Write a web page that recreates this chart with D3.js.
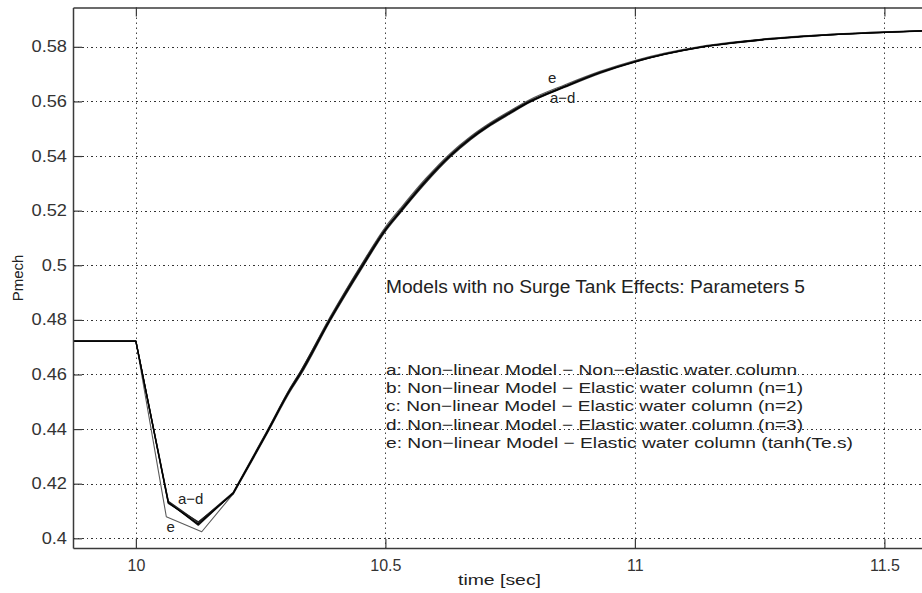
<!DOCTYPE html>
<html lang="en">
<head>
    <meta charset="UTF-8">
    <title>Pmech</title>
    <style>
        body { margin: 0; background: #fff; }
        svg { display: block; font-family: "Liberation Sans", Arial, sans-serif; }
    </style>
</head>
<body>
    <div id="chart"></div>
    <script src="https://d3js.org/d3.v7.min.js"></script>
    <script>
        // time axis for curves a-d and for curve e (its corners sit a bit apart)
        const timeAD = [9.80, 10.00, 10.065, 10.125, 10.195, 10.262, 10.309, 10.33, 10.389, 10.455, 10.50, 10.53, 10.58, 10.63, 10.67, 10.71, 10.75, 10.79, 10.86, 10.93, 11.00, 11.06, 11.13, 11.20, 11.26, 11.33, 11.40, 11.50, 11.60]
        const timeE = [9.80, 10.00, 10.061, 10.132, 10.195, 10.262, 10.309, 10.33, 10.389, 10.455, 10.50, 10.53, 10.58, 10.63, 10.67, 10.71, 10.75, 10.79, 10.86, 10.93, 11.00, 11.06, 11.13, 11.20, 11.26, 11.33, 11.40, 11.50, 11.60]

        const pmechA = [0.4722, 0.4722, 0.4130, 0.4052, 0.4165, 0.4384, 0.4543, 0.4604, 0.4800, 0.5000, 0.5129, 0.5196, 0.5305, 0.5400, 0.5462, 0.5514, 0.5558, 0.5599, 0.5654, 0.5705, 0.5745, 0.5773, 0.5798, 0.5815, 0.5827, 0.5837, 0.5845, 0.5853, 0.5860]
        const pmechB = [0.4722, 0.4722, 0.4136, 0.4058, 0.4168, 0.4390, 0.4548, 0.4611, 0.4806, 0.5008, 0.5134, 0.5202, 0.5311, 0.5405, 0.5467, 0.5518, 0.5562, 0.5603, 0.5657, 0.5707, 0.5747, 0.5774, 0.5799, 0.5816, 0.5828, 0.5838, 0.5846, 0.5854, 0.5860]
        const pmechC = [0.4722, 0.4722, 0.4128, 0.4060, 0.4162, 0.4380, 0.4538, 0.4598, 0.4795, 0.4995, 0.5124, 0.5192, 0.5300, 0.5396, 0.5459, 0.5511, 0.5555, 0.5597, 0.5652, 0.5703, 0.5744, 0.5772, 0.5797, 0.5814, 0.5826, 0.5836, 0.5845, 0.5853, 0.5859]
        const pmechD = [0.4722, 0.4722, 0.4133, 0.4048, 0.4166, 0.4386, 0.4545, 0.4606, 0.4802, 0.5003, 0.5131, 0.5198, 0.5307, 0.5402, 0.5464, 0.5516, 0.5560, 0.5601, 0.5655, 0.5706, 0.5746, 0.5773, 0.5798, 0.5815, 0.5827, 0.5837, 0.5845, 0.5853, 0.5860]
        const pmechE = [0.4722, 0.4722, 0.4079, 0.4024, 0.4163, 0.4388, 0.4550, 0.4612, 0.4810, 0.5012, 0.5140, 0.5208, 0.5316, 0.5410, 0.5471, 0.5522, 0.5566, 0.5607, 0.5661, 0.5710, 0.5750, 0.5777, 0.5801, 0.5818, 0.5829, 0.5839, 0.5847, 0.5855, 0.5861]

        // index of the last sharp corner (t = 10.195); the recovery after it is smooth
        const riseStart = 4

        const xTicks = [10, 10.5, 11, 11.5]
        const xTickLabels = ['10', '10.5', '11', '11.5']
        const yTicks = [0.40, 0.42, 0.44, 0.46, 0.48, 0.50, 0.52, 0.54, 0.56, 0.58]
        const yTickLabels = ['0.4', '0.42', '0.44', '0.46', '0.48', '0.5', '0.52', '0.54', '0.56', '0.58']

        const titleText = 'Models with no Surge Tank Effects: Parameters 5'
        const legendLines = [
            'a: Non\u2212linear Model \u2212 Non\u2212elastic water column',
            'b: Non\u2212linear Model \u2212 Elastic water column (n=1)',
            'c: Non\u2212linear Model \u2212 Elastic water column (n=2)',
            'd: Non\u2212linear Model \u2212 Elastic water column (n=3)',
            'e: Non\u2212linear Model \u2212 Elastic water column (tanh(Te.s)'
        ]

        const width = 922
        const height = 593
        const plotLeft = 73, plotTop = 7.5, plotBottom = 548, plotRight = 934.3
        const axisColor = '#3a3a3a'

        const x = d3.scaleLinear().domain([9.874, 11.6]).range([plotLeft, plotRight])
        const y = d3.scaleLinear().domain([0.39645, 0.5944]).range([plotBottom, plotTop])

        const svg = d3.select('#chart')
            .append('svg')
            .attr('width', width)
            .attr('height', height)

        svg.append('defs').append('clipPath')
            .attr('id', 'plot-clip')
            .append('rect')
            .attr('x', plotLeft).attr('y', plotTop)
            .attr('width', plotRight - plotLeft).attr('height', plotBottom - plotTop)

        // dotted grid (MATLAB ':' style)
        const grid = svg.append('g').attr('class', 'grid').attr('stroke-width', 1)
        grid.selectAll('.hgrid')
            .data(yTicks)
            .join('line')
            .attr('class', 'hgrid')
            .attr('stroke', '#333')
            .attr('x1', plotLeft).attr('x2', plotRight)
            .attr('y1', d => Math.round(y(d)) + 0.5).attr('y2', d => Math.round(y(d)) + 0.5)
            .attr('stroke-dasharray', '2,3,1,3')
        grid.selectAll('.vgrid')
            .data(xTicks)
            .join('line')
            .attr('class', 'vgrid')
            .attr('stroke', '#444')
            .attr('x1', d => Math.round(x(d)) + 0.5).attr('x2', d => Math.round(x(d)) + 0.5)
            .attr('y1', plotTop).attr('y2', plotBottom)
            .attr('stroke-dasharray', '1.5,3.5')

        // curves
        const series = [
            { t: timeE, v: pmechE, color: '#5a5a5a', w: 1.1 },
            { t: timeAD, v: pmechC, color: '#333', w: 1.3 },
            { t: timeAD, v: pmechB, color: '#222', w: 1.3 },
            { t: timeAD, v: pmechD, color: '#1a1a1a', w: 1.3 },
            { t: timeAD, v: pmechA, color: '#000', w: 1.3 }
        ]
        const lineSharp = d3.line()
            .x(d => x(d[0]))
            .y(d => y(d[1]))
        const lineSmooth = d3.line()
            .x(d => x(d[0]))
            .y(d => y(d[1]))
            .curve(d3.curveMonotoneX)

        const curves = svg.append('g').attr('clip-path', 'url(#plot-clip)')
        series.forEach(s => {
            const pts = s.t.map((t, i) => [t, s.v[i]])
            curves.append('path')
                .attr('fill', 'none')
                .attr('stroke', s.color)
                .attr('stroke-width', s.w)
                .attr('stroke-linejoin', 'round')
                .attr('d', lineSharp(pts.slice(0, riseStart + 1)) + lineSmooth(pts.slice(riseStart)).replace(/^M/, 'L'))
        })

        // axes: MATLAB-like inward ticks
        const styleAxis = g => {
            g.select('.domain').attr('stroke', axisColor).attr('stroke-width', 1.5)
            g.selectAll('.tick line').attr('stroke', axisColor).attr('stroke-width', 1.2)
            g.selectAll('.tick text').attr('fill', '#333').style('font-size', '16px')
        }

        const yAxis = svg.append('g')
            .attr('transform', `translate(${plotLeft},0)`)
            .call(d3.axisLeft(y).tickValues(yTicks)
                .tickFormat((d, i) => yTickLabels[i])
                .tickSizeInner(-9).tickSizeOuter(0).tickPadding(6))
            .call(styleAxis)
        // labels in the picture are slightly wider than the font
        yAxis.selectAll('.tick text').each(function () {
            d3.select(this).attr('textLength', this.getComputedTextLength() * 1.14)
                .attr('lengthAdjust', 'spacingAndGlyphs')
        })

        svg.append('g')
            .attr('transform', `translate(0,${plotBottom})`)
            .call(d3.axisBottom(x).tickValues(xTicks)
                .tickFormat((d, i) => xTickLabels[i])
                .tickSizeInner(-9).tickSizeOuter(0).tickPadding(12))
            .call(styleAxis)

        svg.append('g')
            .attr('transform', `translate(0,${plotTop})`)
            .call(d3.axisTop(x).tickValues(xTicks)
                .tickFormat('')
                .tickSizeInner(-9).tickSizeOuter(0))
            .call(styleAxis)

        // axis titles
        svg.append('text')
            .attr('transform', `translate(23,278) rotate(-90)`)
            .attr('text-anchor', 'middle')
            .attr('fill', '#222')
            .style('font-size', '15px')
            .text('Pmech')

        svg.append('text')
            .attr('x', 458).attr('y', 585)
            .attr('fill', '#222')
            .style('font-size', '15px')
            .attr('textLength', 83)
            .attr('lengthAdjust', 'spacingAndGlyphs')
            .text('time [sec]')

        // annotation
        svg.append('text')
            .attr('x', 386).attr('y', 293)
            .attr('fill', '#222')
            .style('font-size', '17.5px')
            .attr('textLength', 419)
            .attr('lengthAdjust', 'spacingAndGlyphs')
            .text(titleText)

        const legendWidths = [411, 417, 417, 417, 467]
        svg.append('g')
            .selectAll('text')
            .data(legendLines)
            .join('text')
            .attr('x', 386)
            .attr('y', (d, i) => 375 + i * 18.2)
            .attr('fill', '#222')
            .style('font-size', '15px')
            .attr('textLength', (d, i) => legendWidths[i])
            .attr('lengthAdjust', 'spacingAndGlyphs')
            .text(d => d)

        // curve tags
        const tags = [
            { label: 'a\u2212d', x: 178, y: 504 },
            { label: 'e', x: 166.5, y: 531.5 },
            { label: 'e', x: 548, y: 83.3 },
            { label: 'a\u2212d', x: 550, y: 103 }
        ]
        svg.append('g')
            .selectAll('text')
            .data(tags)
            .join('text')
            .attr('x', d => d.x).attr('y', d => d.y)
            .attr('fill', '#222')
            .style('font-size', '15px')
            .text(d => d.label)
    </script>
</body>
</html>
